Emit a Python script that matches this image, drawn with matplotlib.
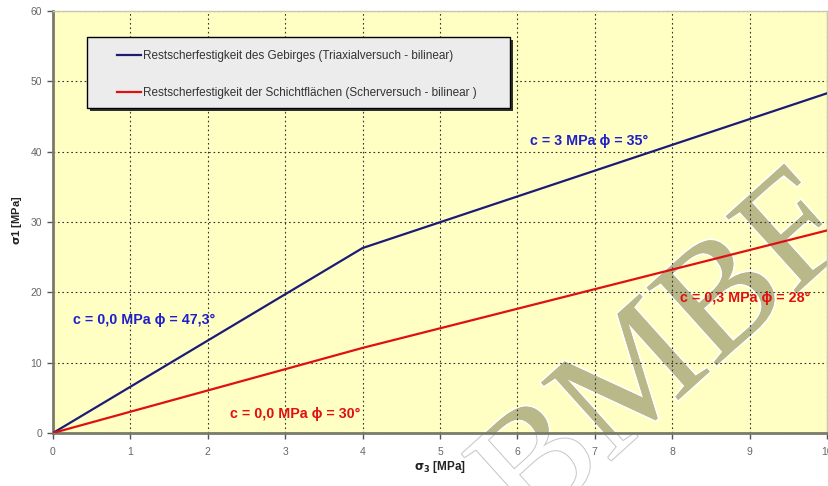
import matplotlib
matplotlib.use("Agg")
import matplotlib.pyplot as plt
import matplotlib.patheffects as pe
from matplotlib.patches import Rectangle

plt.rcParams['font.family'] = ['Liberation Sans', 'DejaVu Sans']

# Principal stresses (MPa): bilinear residual shear strength envelopes
sigma3 = [0, 4, 10]
sigma1_gebirge = [0, 26.3, 48.3]
sigma1_schicht = [0, 12.1, 28.8]

label_gebirge = "Restscherfestigkeit des Gebirges (Triaxialversuch - bilinear)"
label_schicht = "Restscherfestigkeit der Schichtflächen (Scherversuch - bilinear )"

x_ticks = list(range(0, 11))
y_ticks = [0, 10, 20, 30, 40, 50, 60]

fig = plt.figure(figsize=(8.29, 4.86), dpi=100)
fig.patch.set_facecolor("white")
ax = fig.add_axes([53 / 829, 1 - 433 / 486, 774 / 829, 422 / 486])
ax.set_facecolor("#FFFFC4")

ax.plot(sigma3, sigma1_gebirge, color="#1C1C78", lw=1.6, label=label_gebirge, zorder=3)
ax.plot(sigma3, sigma1_schicht, color="#E01010", lw=1.6, label=label_schicht, zorder=3)

ax.set_xlim(0, 10)
ax.set_ylim(0, 60)
ax.set_xticks(x_ticks)
ax.set_yticks(y_ticks)
ax.grid(True, color="#333333", linestyle=(0, (1.5, 2.5)), linewidth=0.8)
ax.set_axisbelow(True)

for side in ("left", "bottom"):
    ax.spines[side].set_color("#7A7A6A")
    ax.spines[side].set_linewidth(2.0)
for side in ("top", "right"):
    ax.spines[side].set_color("#C8C8B0")
    ax.spines[side].set_linewidth(1.0)

ax.tick_params(axis="both", direction="out", length=4, width=1, color="#555555",
               labelcolor="#666666", labelsize=7.5)
ax.tick_params(axis="x", pad=6)
ax.tick_params(axis="y", pad=4)

ax.set_xlabel(r"$\mathbf{\sigma_3}$ [MPa]", fontsize=8.5, fontweight="bold", color="#222222")
ax.set_ylabel(r"$\mathbf{\sigma}$1 [MPa]", fontsize=8, fontweight="bold", color="#222222")
ax.xaxis.set_label_coords(0.5, -0.062)
ax.yaxis.set_label_coords(-0.0375, 0.505)

# Legend box with drop shadow, entries placed inside it
box_x0, box_y0, box_w, box_h = 34 / 774, 1 - 97 / 422, 423 / 774, 71 / 422
ax.add_patch(Rectangle((box_x0 + 3 / 774, box_y0 - 3 / 422), box_w, box_h,
                       transform=ax.transAxes, facecolor="#303030", edgecolor="none",
                       zorder=4))
ax.add_patch(Rectangle((box_x0, box_y0), box_w, box_h, transform=ax.transAxes,
                       facecolor="#ECECEC", edgecolor="black", linewidth=1.0, zorder=4.1))
leg = ax.legend(loc="upper left", bbox_to_anchor=(64 / 774, 1 - 39 / 422),
                fontsize=8.5, frameon=False, handlelength=2.0, handletextpad=0.2,
                labelspacing=2.1, borderpad=0, borderaxespad=0)
leg.set_zorder(5)
for t in leg.get_texts():
    t.set_color("#333333")

ann = dict(fontsize=10.3, fontweight="bold", va="center", zorder=4,
           family=["Liberation Sans", "DejaVu Sans"])
ax.text(6.16, 41.5, "c = 3 MPa ϕ = 35°", color="#2020C8", **ann)
ax.text(0.26, 16.0, "c = 0,0 MPa ϕ = 47,3°", color="#2020C8", **ann)
ax.text(8.1, 19.2, "c = 0,3 MPa ϕ = 28°", color="#E01010", **ann)
ax.text(2.29, 2.7, "c = 0,0 MPa ϕ = 30°", color="#E01010", **ann)

# Diagonal "BMBF" stamp: outlined on the white margin, olive inside the plot area
wm_pos = (0.805, 0.265)
wm_kw = dict(fontsize=115, family="Liberation Serif", rotation=42,
             ha="center", va="center", transform=fig.transFigure)
fig.text(*wm_pos, "BMBF", color="white", zorder=-1,
         path_effects=[pe.withStroke(linewidth=1.5, foreground="#C8C8C8")], **wm_kw)
ax.text(*wm_pos, "BMBF", color="#B8B888", zorder=0.4, clip_on=True,
        path_effects=[pe.withStroke(linewidth=2.5, foreground="white"), pe.Normal()],
        **wm_kw)

fig.savefig("out.png", dpi=100)
